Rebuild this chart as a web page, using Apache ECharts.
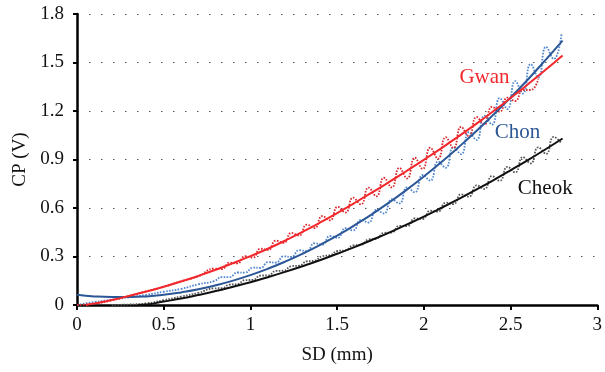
<!DOCTYPE html>
<html>
<head>
<meta charset="utf-8">
<script src="https://cdn.jsdelivr.net/npm/echarts@6/dist/echarts.min.js"></script>
<style>
html, body { margin: 0; padding: 0; background: #fff; }
#main { width: 605px; height: 372px; }
</style>
</head>
<body>
<div id="main"></div>
<script>
// fitted curves (smooth)
const redFitX = [0.05, 0.1, 0.2, 0.3, 0.4, 0.5, 0.6, 0.7, 0.8, 0.9, 1.0, 1.1, 1.2, 1.3, 1.4, 1.5, 1.6, 1.7, 1.8, 1.9, 2.0, 2.1, 2.2, 2.3, 2.4, 2.5, 2.6, 2.7, 2.8];
const redFit = [0, 0.010, 0.031, 0.056, 0.083, 0.113, 0.145, 0.180, 0.218, 0.259, 0.302, 0.348, 0.398, 0.452, 0.509, 0.569, 0.631, 0.695, 0.761, 0.829, 0.898, 0.969, 1.043, 1.119, 1.198, 1.280, 1.365, 1.453, 1.544];

const blueFitX = [0, 0.1, 0.2, 0.3, 0.4, 0.5, 0.6, 0.7, 0.8, 0.9, 1.0, 1.1, 1.2, 1.3, 1.4, 1.5, 1.6, 1.7, 1.8, 1.9, 2.0, 2.1, 2.2, 2.3, 2.4, 2.5, 2.6, 2.7, 2.8];
const blueFit = [0.063, 0.053, 0.049, 0.049, 0.053, 0.063, 0.078, 0.097, 0.122, 0.151, 0.185, 0.224, 0.268, 0.317, 0.371, 0.429, 0.493, 0.561, 0.634, 0.712, 0.795, 0.883, 0.976, 1.073, 1.176, 1.283, 1.395, 1.513, 1.635];

const blackFitX = [0.35, 0.4, 0.5, 0.6, 0.7, 0.8, 0.9, 1.0, 1.1, 1.2, 1.3, 1.4, 1.5, 1.6, 1.7, 1.8, 1.9, 2.0, 2.1, 2.2, 2.3, 2.4, 2.5, 2.6, 2.7, 2.8];
const blackFit = [0, 0.003, 0.021, 0.040, 0.062, 0.086, 0.113, 0.141, 0.172, 0.205, 0.240, 0.277, 0.317, 0.358, 0.402, 0.448, 0.497, 0.547, 0.600, 0.655, 0.712, 0.771, 0.833, 0.896, 0.962, 1.030];

// measured (dotted, wavy)
const measX = [0, 0.1, 0.2, 0.3, 0.4, 0.5, 0.6, 0.7, 0.791, 0.836, 0.880, 0.925, 0.969, 1.014, 1.058, 1.103, 1.147, 1.192, 1.236, 1.281, 1.325, 1.370, 1.414, 1.459, 1.503, 1.548, 1.592, 1.637, 1.681, 1.726, 1.770, 1.815, 1.859, 1.904, 1.948, 1.993, 2.037, 2.082, 2.126, 2.171, 2.215, 2.260, 2.304, 2.349, 2.393, 2.438, 2.482, 2.527, 2.571, 2.616, 2.660, 2.705, 2.749, 2.794];
const redMeas = [0, 0.008, 0.028, 0.055, 0.085, 0.112, 0.148, 0.178, 0.225, 0.222, 0.262, 0.257, 0.302, 0.293, 0.348, 0.341, 0.398, 0.384, 0.446, 0.429, 0.497, 0.476, 0.550, 0.524, 0.607, 0.572, 0.664, 0.622, 0.726, 0.672, 0.787, 0.727, 0.848, 0.783, 0.911, 0.842, 0.973, 0.905, 1.038, 0.971, 1.102, 1.043, 1.163, 1.117, 1.226, 1.196, 1.283, 1.262, 1.330, 1.330, 1.399];
const blueMeas = [0, 0.018, 0.033, 0.048, 0.063, 0.082, 0.100, 0.128, 0.148, 0.173, 0.173, 0.201, 0.200, 0.231, 0.230, 0.265, 0.262, 0.301, 0.297, 0.339, 0.333, 0.382, 0.373, 0.427, 0.415, 0.475, 0.461, 0.527, 0.510, 0.588, 0.566, 0.654, 0.628, 0.728, 0.697, 0.804, 0.769, 0.887, 0.849, 0.976, 0.933, 1.069, 1.021, 1.171, 1.116, 1.280, 1.212, 1.385, 1.308, 1.490, 1.407, 1.597, 1.522, 1.677];
const blackMeas = [null, null, 0, 0.003, 0.010, 0.030, 0.052, 0.075, 0.103, 0.104, 0.126, 0.129, 0.154, 0.155, 0.182, 0.183, 0.211, 0.212, 0.240, 0.243, 0.270, 0.274, 0.302, 0.308, 0.334, 0.338, 0.368, 0.372, 0.405, 0.410, 0.446, 0.448, 0.490, 0.488, 0.536, 0.532, 0.583, 0.577, 0.633, 0.624, 0.685, 0.670, 0.740, 0.718, 0.797, 0.768, 0.855, 0.820, 0.915, 0.876, 0.975, 0.935, 1.040, 1.000];

const pairs = (xs, ys) => ys.map((y, i) => [xs[i], y]);

const FONT = 'Liberation Serif';
const chart = echarts.init(document.getElementById('main'));

const measLine = (name, ys, color) => ({
    name: name,
    type: 'line',
    data: pairs(measX, ys),
    smooth: 0.5,
    showSymbol: false,
    connectNulls: false,
    lineStyle: { color: color, width: 1.8, type: [1.6, 1.4] },
    z: 2
});
const fitLine = (name, xs, ys, color, labelCoord) => ({
    name: name,
    type: 'line',
    data: pairs(xs, ys),
    smooth: true,
    showSymbol: false,
    lineStyle: { color: color, width: 2 },
    z: 3,
    markPoint: {
        symbol: 'circle',
        symbolSize: 0,
        silent: true,
        label: { show: true, position: 'inside', formatter: name, color: color, fontFamily: FONT, fontSize: 21 },
        data: [{ coord: labelCoord }]
    }
});

chart.setOption({
    animation: false,
    grid: { left: 77, right: 4, top: 14, bottom: 67 },
    xAxis: {
        type: 'value',
        min: 0, max: 3, interval: 0.5,
        name: 'SD (mm)',
        nameLocation: 'middle',
        nameGap: 41,
        nameTextStyle: { fontFamily: FONT, fontSize: 19, color: '#111' },
        axisLine: { lineStyle: { color: '#000', width: 2.5 } },
        axisTick: { show: true, length: 5, lineStyle: { color: '#000', width: 2 } },
        axisLabel: { margin: 11, fontFamily: FONT, fontSize: 19, color: '#111' },
        splitLine: { show: false }
    },
    yAxis: {
        type: 'value',
        min: 0, max: 1.8, interval: 0.3,
        name: 'CP (V)',
        nameLocation: 'middle',
        nameGap: 47,
        nameTextStyle: { fontFamily: FONT, fontSize: 19, color: '#111' },
        axisLine: { show: true, lineStyle: { color: '#000', width: 2.5 } },
        axisTick: { show: true, length: 4, lineStyle: { color: '#000', width: 2 } },
        axisLabel: {
            margin: 13, fontFamily: FONT, fontSize: 19, color: '#111',
            formatter: v => v === 0 ? '0' : v.toFixed(1)
        },
        splitLine: { show: true, lineStyle: { color: '#555', width: 1.2, type: [1.5, 10.5] } }
    },
    series: [
        measLine('Cheok data', blackMeas, '#555555'),
        measLine('Chon data', blueMeas, '#4f86cf'),
        measLine('Gwan data', redMeas, '#d8282c'),
        fitLine('Cheok', blackFitX, blackFit, '#111111', [2.70, 0.72]),
        fitLine('Chon', blueFitX, blueFit, '#2b5797', [2.54, 1.065]),
        fitLine('Gwan', redFitX, redFit, '#f2282c', [2.35, 1.41])
    ]
});
</script>
</body>
</html>
